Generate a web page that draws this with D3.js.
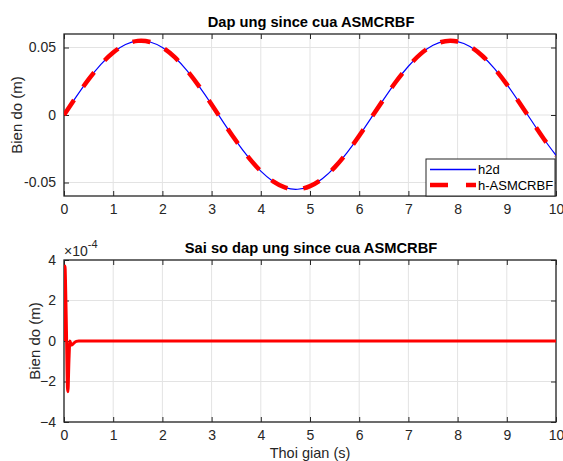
<!DOCTYPE html>
<html>
<head>
<meta charset="utf-8">
<script src="https://cdn.jsdelivr.net/npm/d3@7"></script>
<style>
body { margin: 0; background: #fff; }
text { font-family: "Liberation Sans", Arial, sans-serif; fill: #262626; }
</style>
</head>
<body>
<script>
// du lieu doc tu hinh
var time = [0, 0.25, 0.5, 0.75, 1, 1.25, 1.5, 1.75, 2, 2.25, 2.5, 2.75, 3, 3.25, 3.5, 3.75, 4, 4.25, 4.5, 4.75,
    5, 5.25, 5.5, 5.75, 6, 6.25, 6.5, 6.75, 7, 7.25, 7.5, 7.75, 8, 8.25, 8.5, 8.75, 9, 9.25, 9.5, 9.75, 10];
var h2d = [0, 0.0136, 0.0264, 0.0375, 0.0463, 0.0522, 0.0549, 0.0541, 0.0500, 0.0428, 0.0329, 0.0210, 0.0078,
    -0.0060, -0.0193, -0.0314, -0.0416, -0.0492, -0.0538, -0.0550, -0.0527, -0.0472, -0.0388, -0.0280, -0.0154,
    -0.0018, 0.0118, 0.0248, 0.0361, 0.0453, 0.0516, 0.0547, 0.0544, 0.0508, 0.0439, 0.0344, 0.0227, 0.0095,
    -0.0041, -0.0176, -0.0299];
var hASMCRBF = [0, 0.0136, 0.0264, 0.0375, 0.0463, 0.0522, 0.0549, 0.0541, 0.0500, 0.0428, 0.0329, 0.0210, 0.0078,
    -0.0060, -0.0193, -0.0314, -0.0416, -0.0492, -0.0538, -0.0550, -0.0527, -0.0472, -0.0388, -0.0280, -0.0154,
    -0.0018, 0.0118, 0.0248, 0.0361, 0.0453, 0.0516, 0.0547, 0.0544, 0.0508, 0.0439, 0.0344, 0.0227, 0.0095,
    -0.0041, -0.0176, -0.0299];
var errTime = [0, 0.01, 0.02, 0.03, 0.05, 0.07, 0.08, 0.1, 0.12, 0.14, 0.16, 0.2, 0.25, 0.3, 10];
var errVal = [0, 2.5, 3.7, 3.0, 0.5, -2.3, -2.5, -1.0, 0.0, -0.15, -0.2, -0.1, -0.02, 0, 0]; // x 1e-4

var xTicks = [0, 1, 2, 3, 4, 5, 6, 7, 8, 9, 10];
var yTicksTop = [-0.05, 0, 0.05];
var yTickLabelsTop = ["-0.05", "0", "0.05"];
var yTicksBot = [-4, -2, 0, 2, 4];
var legendNames = ["h2d", "h-ASMCRBF"];

var W = 563, H = 461;
var svg = d3.select('body').append('svg').attr('width', W).attr('height', H);

var left = 64, right = 556;
var x = d3.scaleLinear().domain([0, 10]).range([left, right]);

function drawAxes(top, bottom, y, yTicks, yFmt, title) {
    var g = svg.append('g');
    // luoi
    g.selectAll('line.gx').data(xTicks).enter().append('line')
            .attr('x1', function (d) { return x(d); }).attr('x2', function (d) { return x(d); })
            .attr('y1', top).attr('y2', bottom)
            .style('stroke', '#e3e3e3').style('stroke-width', 1);
    g.selectAll('line.gy').data(yTicks).enter().append('line')
            .attr('x1', left).attr('x2', right)
            .attr('y1', function (d) { return y(d); }).attr('y2', function (d) { return y(d); })
            .style('stroke', '#e3e3e3').style('stroke-width', 1);
    // truc
    var ax = d3.axisBottom(x).tickValues(xTicks).tickSize(-5).tickPadding(8).tickFormat(d3.format('d'));
    var gx = svg.append('g').attr('transform', 'translate(0,' + bottom + ')').call(ax);
    var ay = d3.axisLeft(y).tickValues(yTicks).tickSize(-5).tickPadding(8).tickFormat(yFmt);
    var gy = svg.append('g').attr('transform', 'translate(' + left + ',0)').call(ay);
    var axT = d3.axisTop(x).tickValues(xTicks).tickSize(-5).tickFormat('');
    var gt = svg.append('g').attr('transform', 'translate(0,' + top + ')').call(axT);
    var ayR = d3.axisRight(y).tickValues(yTicks).tickSize(-5).tickFormat('');
    var gr = svg.append('g').attr('transform', 'translate(' + right + ',0)').call(ayR);
    [gx, gy, gt, gr].forEach(function (a) {
        a.select('.domain').remove();
        a.selectAll('line').style('stroke', '#262626');
        a.selectAll('text').style('font-size', '14px').style('fill', '#262626')
                .style('font-family', '"Liberation Sans", Arial, sans-serif');
    });
    svg.append('rect').attr('x', left).attr('y', top).attr('width', right - left).attr('height', bottom - top)
            .style('fill', 'none').style('stroke', '#262626').style('stroke-width', 1.3);
    svg.append('text').attr('x', (left + right) / 2 + 1).attr('y', top - 7)
            .attr('text-anchor', 'middle').style('font-size', '14.7px').style('font-weight', 'bold')
            .style('fill', '#000').text(title);
}

// bieu do tren
var top1 = 34, bot1 = 196;
var y1 = d3.scaleLinear().domain([-0.06, 0.06]).range([bot1, top1]);
drawAxes(top1, bot1, y1, yTicksTop, function (d, i) { return yTickLabelsTop[i]; }, 'Dap ung since cua ASMCRBF');

svg.append('clipPath').attr('id', 'c1').append('rect')
        .attr('x', left).attr('y', top1).attr('width', right - left).attr('height', bot1 - top1);

var line1 = d3.line().curve(d3.curveNatural)
        .x(function (d) { return x(d[0]); }).y(function (d) { return y1(d[1]); });
svg.append('path').datum(d3.zip(time, h2d)).attr('d', line1).attr('clip-path', 'url(#c1)')
        .style('fill', 'none').style('stroke', '#0000ff').style('stroke-width', 1.2);
svg.append('path').datum(d3.zip(time, hASMCRBF)).attr('d', line1).attr('clip-path', 'url(#c1)')
        .style('fill', 'none').style('stroke', '#ff0000').style('stroke-width', 4.5)
        .style('stroke-dasharray', '18,16');

// chu thich
var lg = svg.append('g');
lg.append('rect').attr('x', 426).attr('y', 159).attr('width', 129).attr('height', 37)
        .style('fill', '#fff').style('stroke', '#262626').style('stroke-width', 1);
lg.append('line').attr('x1', 430).attr('x2', 476).attr('y1', 169.5).attr('y2', 169.5)
        .style('stroke', '#0000ff').style('stroke-width', 1.5);
lg.append('line').attr('x1', 430).attr('x2', 476).attr('y1', 185).attr('y2', 185)
        .style('stroke', '#ff0000').style('stroke-width', 4.5).style('stroke-dasharray', '18,18');
lg.selectAll('text').data(legendNames).enter().append('text')
        .attr('x', 478).attr('y', function (d, i) { return 174 + i * 15.5; })
        .style('font-size', '13px').style('fill', '#000').text(function (d) { return d; });

// bieu do duoi
var top2 = 260, bot2 = 422;
var y2 = d3.scaleLinear().domain([-4, 4]).range([bot2, top2]);
drawAxes(top2, bot2, y2, yTicksBot, d3.format('d'), 'Sai so dap ung since cua ASMCRBF');

svg.append('clipPath').attr('id', 'c2').append('rect')
        .attr('x', left).attr('y', top2).attr('width', right - left).attr('height', bot2 - top2);
var line2 = d3.line().curve(d3.curveMonotoneX)
        .x(function (d) { return x(d[0]); }).y(function (d) { return y2(d[1]); });
svg.append('path').datum(d3.zip(errTime, errVal)).attr('d', line2).attr('clip-path', 'url(#c2)')
        .style('fill', 'none').style('stroke', '#ff0000').style('stroke-width', 3)
        .style('stroke-linejoin', 'round');

// he so mu
var ex = svg.append('text').attr('x', 64).attr('y', 256).style('font-size', '14px').style('fill', '#262626');
ex.append('tspan').text('\u00d710');
ex.append('tspan').attr('dy', -8).style('font-size', '11px').text('-4');

// nhan truc
svg.append('text').attr('transform', 'translate(22,115) rotate(-90)').attr('text-anchor', 'middle')
        .style('font-size', '15px').text('Bien do (m)');
svg.append('text').attr('transform', 'translate(40,341) rotate(-90)').attr('text-anchor', 'middle')
        .style('font-size', '15px').text('Bien do (m)');
svg.append('text').attr('x', (left + right) / 2).attr('y', 458).attr('text-anchor', 'middle')
        .style('font-size', '14.5px').text('Thoi gian (s)');
</script>
</body>
</html>
